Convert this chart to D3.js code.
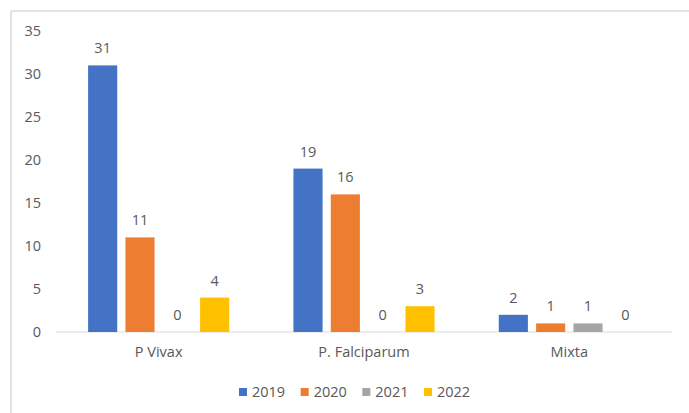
<!DOCTYPE html>
<html><head><meta charset="utf-8">
<script src="https://cdn.jsdelivr.net/npm/d3@7/dist/d3.min.js"></script>
<style>body{margin:0;background:#fff}svg{display:block}text{font-family:"Open Sans","Noto Sans",sans-serif;fill:#595959}</style>
</head><body>
<script>
const categories = ["P Vivax", "P. Falciparum", "Mixta"];
const seriesNames = ["2019", "2020", "2021", "2022"];
const values = {
  "2019": [31, 19, 2],
  "2020": [11, 16, 1],
  "2021": [0, 0, 1],
  "2022": [4, 3, 0]
};
const colors = ["#4472C4", "#ED7D31", "#A5A5A5", "#FFC000"];
const yTicks = [0, 5, 10, 15, 20, 25, 30, 35];

const W = 689, H = 413;
const FS = "14.5px";
const svg = d3.select("body").append("svg").attr("width", W).attr("height", H);

svg.append("line").attr("x1", 11).attr("x2", W).attr("y1", 11).attr("y2", 11).attr("stroke", "#d9d9d9").attr("stroke-width", 1.5);
svg.append("line").attr("x1", 11).attr("x2", 11).attr("y1", 11).attr("y2", H).attr("stroke", "#d9d9d9").attr("stroke-width", 1.5);

const x0 = d3.scaleBand().domain(categories).range([56, 672]).paddingInner(0).paddingOuter(0);
const y = d3.scaleLinear().domain([0, 35]).range([332, 31]);
const x1 = d3.scaleBand().domain(seriesNames).range([0, x0.bandwidth()]).paddingInner(0.22).paddingOuter(0.86);

const yAxis = d3.axisLeft(y).tickValues(yTicks).tickSize(0).tickPadding(0);
const gy = svg.append("g").attr("transform", "translate(41,0)").call(yAxis);
gy.select(".domain").remove();
gy.selectAll("text").style("font-size", FS).attr("fill", "#595959");

svg.append("line").attr("x1", 56).attr("x2", 672).attr("y1", y(0)).attr("y2", y(0)).attr("stroke", "#d9d9d9").attr("stroke-width", 1);

const data = [];
categories.forEach((c, i) => seriesNames.forEach((s, j) => data.push({c, s, v: values[s][i], color: colors[j]})));

const g = svg.append("g");
g.selectAll("rect").data(data).join("rect")
  .attr("x", d => x0(d.c) + x1(d.s))
  .attr("width", x1.bandwidth())
  .attr("y", d => y(d.v))
  .attr("height", d => y(0) - y(d.v))
  .attr("fill", d => d.color);

g.selectAll("text.lbl").data(data).join("text").attr("class", "lbl")
  .attr("x", d => x0(d.c) + x1(d.s) + x1.bandwidth() / 2)
  .attr("y", d => y(d.v) - 12)
  .attr("text-anchor", "middle")
  .style("font-size", FS)
  .text(d => d.v);

const xAxis = d3.axisBottom(x0).tickSize(0).tickPadding(0);
const gx = svg.append("g").attr("transform", `translate(0,${y(0) + 15})`).call(xAxis);
gx.select(".domain").remove();
gx.selectAll("text").style("font-size", FS).attr("fill", "#595959").attr("dy", "0.71em");

const legendX = d3.scalePoint().domain(seriesNames).range([239, 424]);
const lg = svg.append("g").selectAll("g").data(seriesNames).join("g")
  .attr("transform", d => `translate(${legendX(d)},392)`);
lg.append("rect").attr("x", 0).attr("y", -4).attr("width", 8).attr("height", 8).attr("fill", (d, i) => colors[i]);
lg.append("text").attr("x", 13).attr("y", 0).attr("dy", "0.35em").style("font-size", FS).text(d => d);
</script>
</body></html>
